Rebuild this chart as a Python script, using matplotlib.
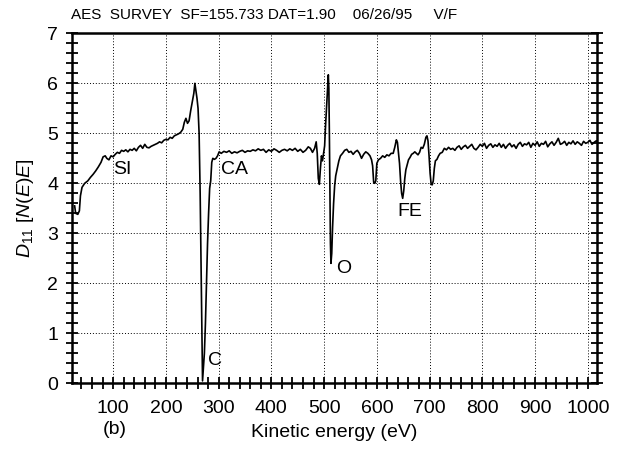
import numpy as np
import matplotlib
matplotlib.use("Agg")
import matplotlib.pyplot as plt
from matplotlib.ticker import MultipleLocator

plt.rcParams['font.family'] = ['Liberation Sans', 'DejaVu Sans']
plt.rcParams['mathtext.fontset'] = 'custom'
plt.rcParams['mathtext.rm'] = 'Liberation Sans'
plt.rcParams['mathtext.it'] = 'Liberation Sans:italic'

# spectrum (kinetic energy eV, D11[N(E)E])
energy = [27, 29, 33, 36, 38, 41, 46, 52, 57, 62, 67, 72, 77, 81, 85, 88, 92, 96, 100,
          104, 108, 112, 116, 120, 124, 128, 132, 136, 140, 144, 148, 152, 156, 160,
          164, 168, 172, 176, 180, 184, 188, 192, 196, 200, 204, 208, 212, 216, 220,
          224, 228, 232, 235, 238, 241, 244, 247, 250, 253, 255, 257, 259, 261, 263,
          265, 267, 268.5, 269.5, 271, 273, 275, 277, 279, 281, 283, 285, 287, 289,
          292, 295, 298, 301,
          305, 310, 315, 320, 325, 330, 335, 340, 345, 350, 355, 360, 365, 370, 375,
          380, 385, 390, 395, 400, 405, 410, 415, 420, 425, 430, 435, 440, 445, 450,
          455, 460, 465, 470, 474, 478, 482, 485, 487, 489, 491, 493, 495, 497, 499,
          501, 503, 505, 507, 508, 509, 510, 511, 512, 513, 514.5, 516, 518, 520, 522,
          525, 528, 531, 535, 539, 543, 547, 551, 555, 559, 563, 567, 571, 575, 579,
          583, 587, 590, 592, 594, 596, 598, 600, 603, 607, 611, 615, 619, 623, 627,
          631, 634, 637, 639, 641, 643, 645, 647, 649, 651, 653, 655, 657, 660, 663,
          666, 669, 672, 675, 678, 681, 684, 687, 690, 693, 695, 697, 699, 701, 703,
          705, 707, 709, 711, 714, 717, 720, 724, 728, 732, 736, 740, 744, 748, 752,
          756, 760, 764, 768, 772, 776, 780, 784, 788, 792, 796, 800, 804, 808, 812,
          816, 820, 824, 828, 832, 836, 840, 844, 848, 852, 856, 860, 864, 868, 872,
          876, 880, 884, 888, 892, 896, 900, 904, 908, 912, 916, 920, 924, 928, 932,
          936, 940, 944, 948, 952, 956, 960, 964, 968, 972, 976, 980, 984, 988, 992,
          996, 1000, 1004, 1008, 1012, 1016, 1018]
signal = [3.55, 3.40, 3.38, 3.45, 3.75, 3.92, 4.00, 4.05, 4.12, 4.18, 4.25, 4.33, 4.42,
          4.53, 4.55, 4.50, 4.47, 4.55, 4.53,
          4.58, 4.62, 4.60, 4.66, 4.64, 4.67, 4.63, 4.68, 4.66, 4.70, 4.65, 4.72, 4.76,
          4.70, 4.78, 4.72, 4.71, 4.74, 4.76, 4.78, 4.80, 4.83, 4.81, 4.86, 4.88, 4.87,
          4.92, 4.90, 4.95, 4.97, 4.99, 5.02, 5.08, 5.22, 5.30, 5.20, 5.25, 5.45, 5.62,
          5.80, 6.00, 5.85, 5.70, 5.50, 5.00, 3.80, 2.20, 1.00, 0.05, 0.30, 0.60, 1.20,
          2.00, 2.80, 3.40, 3.90, 4.05, 4.42, 4.50, 4.48, 4.50, 4.55, 4.63,
          4.60, 4.64, 4.62, 4.65, 4.60, 4.63, 4.61, 4.64, 4.66, 4.62, 4.65, 4.64, 4.67,
          4.65, 4.69, 4.66, 4.68, 4.62, 4.67, 4.64, 4.69, 4.66, 4.62, 4.66, 4.68, 4.65,
          4.69, 4.66, 4.70, 4.64, 4.68, 4.62, 4.66, 4.73, 4.70, 4.62, 4.70, 4.83, 4.60,
          4.10, 3.98, 4.30, 4.55, 4.45, 4.60, 4.75, 5.20, 5.60, 6.00, 6.17, 5.90, 5.00,
          3.80, 2.80, 2.40, 2.60, 3.10, 3.60, 3.95, 4.15, 4.30, 4.45, 4.55, 4.60, 4.66,
          4.68, 4.62, 4.64, 4.58, 4.63, 4.66, 4.60, 4.50, 4.58, 4.63, 4.60, 4.55, 4.47,
          4.35, 4.02, 4.00, 4.05, 4.40, 4.47, 4.50, 4.55, 4.52, 4.57, 4.55, 4.60, 4.60,
          4.72, 4.87, 4.82, 4.60, 4.40, 4.05, 3.80, 3.70, 3.85, 4.10, 4.27, 4.35, 4.47,
          4.52, 4.58, 4.60, 4.63, 4.60, 4.57, 4.62, 4.72, 4.70, 4.78, 4.92, 4.95, 4.85,
          4.55, 4.20, 3.98, 3.97, 4.05, 4.30, 4.45, 4.48, 4.55, 4.60, 4.62, 4.70, 4.67,
          4.72, 4.68, 4.70, 4.66, 4.72, 4.75, 4.68, 4.73, 4.76, 4.70, 4.74, 4.78, 4.70,
          4.67, 4.72, 4.78, 4.74, 4.80, 4.70, 4.76, 4.79, 4.72, 4.77, 4.74, 4.80, 4.72,
          4.78, 4.70, 4.76, 4.80, 4.73, 4.77, 4.70, 4.78, 4.82, 4.74, 4.79, 4.77, 4.82,
          4.72, 4.80, 4.76, 4.83, 4.74, 4.80, 4.78, 4.84, 4.73, 4.79, 4.83, 4.76, 4.82,
          4.90, 4.78, 4.80, 4.84, 4.76, 4.82, 4.79, 4.85, 4.78, 4.83, 4.80, 4.76, 4.84,
          4.80, 4.82, 4.86, 4.78, 4.82, 4.85, 4.84]

peak_names = ["SI", "CA", "C", "O", "FE"]
peak_pos = [(100, 4.28), (304, 4.27), (280, 0.45), (523, 2.3), (638, 3.43)]

title_text = "AES  SURVEY  SF=155.733 DAT=1.90    06/26/95     V/F"

fig = plt.figure(figsize=(6.18, 4.5), dpi=100)
ax = fig.add_axes([0.1165, 0.148, 0.85, 0.778])

ax.plot(energy, signal, color='black', lw=1.2)

ax.set_xlim(22, 1018)
ax.set_ylim(0, 7)
ax.xaxis.set_major_locator(MultipleLocator(100))
ax.xaxis.set_minor_locator(MultipleLocator(20))
ax.yaxis.set_major_locator(MultipleLocator(1))
ax.yaxis.set_minor_locator(MultipleLocator(0.2))

# dotted grid
for xv in range(100, 1001, 100):
    ax.axvline(xv, color='black', lw=0.7, ls=(0, (1, 2)), zorder=0)
for yv in range(1, 7):
    ax.axhline(yv, color='black', lw=0.7, ls=(0, (1, 2)), zorder=0)

for s in ax.spines.values():
    s.set_linewidth(1.8)

ax.tick_params(which='both', direction='inout', length=8, width=1.3,
               top=False, right=True, labelsize=14)
ax.tick_params(axis='x', which='both', pad=8)
ax.tick_params(axis='y', which='both', pad=6)

for name, (xx, yy) in zip(peak_names, peak_pos):
    ax.text(xx, yy, name, fontsize=14, ha='left', va='center')

ax.set_xlabel("Kinetic energy (eV)", fontsize=14, labelpad=5)
ax.set_ylabel(r"$\mathit{D}_{11}$ [$\mathit{N}$($\mathit{E}$)$\mathit{E}$]", fontsize=14, labelpad=8)
fig.text(0.167, 0.045, "(b)", fontsize=14, va='center', ha='left')
fig.text(0.115, 0.967, title_text, fontsize=11, va='center', ha='left')

fig.savefig("out.png", dpi=100)
